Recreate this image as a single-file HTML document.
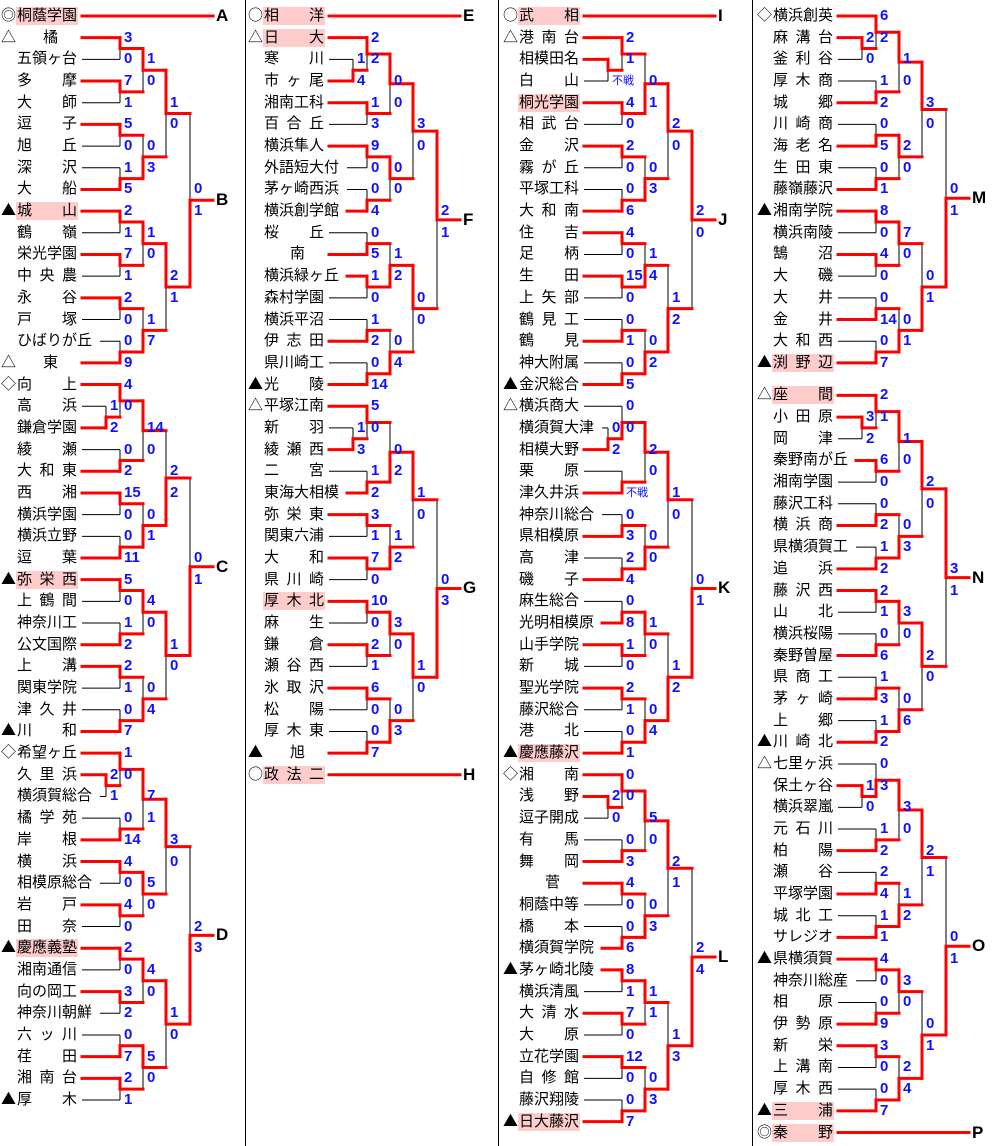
<!DOCTYPE html>
<html><head><meta charset="utf-8">
<style>
html,body{margin:0;padding:0;background:#fff;}
#root{position:relative;width:993px;height:1146px;overflow:hidden;background:#fff;font-family:"Liberation Sans","Noto Sans CJK JP",sans-serif;}
.nm{position:absolute;height:18px;line-height:18px;font-size:15px;color:#000;display:flex;justify-content:space-between;white-space:nowrap;}
.hl{position:absolute;height:18px;background:#ffcccc;}
.mk{position:absolute;font-size:15px;line-height:18px;height:18px;color:#000;font-family:"Noto Sans CJK JP",sans-serif;}
.sc{position:absolute;font-weight:bold;font-size:15px;line-height:16px;height:16px;color:#1010ff;font-family:"Liberation Sans",sans-serif;}
.fs{position:absolute;font-size:11px;line-height:14px;color:#1010ff;}
.lt{position:absolute;font-weight:bold;font-size:17px;line-height:20px;color:#000;font-family:"Liberation Sans",sans-serif;}
.dv{position:absolute;top:0;width:1px;height:1146px;background:#000;}
svg{position:absolute;left:0;top:0;}
</style></head><body>
<div id="root">
<div class="dv" style="left:245px"></div>
<div class="dv" style="left:498px"></div>
<div class="dv" style="left:752px"></div>
<svg id="sv" width="993" height="1146"></svg>
</div>
<script>
var P=21.68;
var BASE=[0,247,502,756];
var LV=[106,120,143,166,190];
function Y(c,r){return 16+(r+(c==3&&r>=17?0.5:0))*P;}
var root=document.getElementById('root');
var black=[],red=[];
function div(cls,x,y,txt,extra){var d=document.createElement('div');d.className=cls;d.style.left=x+'px';d.style.top=y+'px';if(extra)d.style.cssText+=extra;if(txt!=null)d.textContent=txt;root.appendChild(d);return d;}
var NAMES=[
["◎桐蔭学園*","△橘","五領ヶ台","多摩","大師","逗子","旭丘","深沢","大船","▲城山*","鶴嶺","栄光学園","中央農","永谷","戸塚","ひばりが丘","△東","◇向上","高浜","鎌倉学園","綾瀬","大和東","西湘","横浜学園","横浜立野","逗葉","▲弥栄西*","上鶴間","神奈川工","公文国際","上溝","関東学院","津久井","▲川和","◇希望ヶ丘","久里浜","横須賀総合","橘学苑","岸根","横浜","相模原総合","岩戸","田奈","▲慶應義塾*","湘南通信","向の岡工","神奈川朝鮮","六ッ川","荏田","湘南台","▲厚木"],
["○相洋*","△日大*","寒川","市ヶ尾","湘南工科","百合丘","横浜隼人","外語短大付","茅ヶ崎西浜","横浜創学館","桜丘","南","横浜緑ヶ丘","森村学園","横浜平沼","伊志田","県川崎工","▲光陵","△平塚江南","新羽","綾瀬西","二宮","東海大相模","弥栄東","関東六浦","大和","県川崎","厚木北*","麻生","鎌倉","瀬谷西","氷取沢","松陽","厚木東","▲旭","○政法二*"],
["○武相*","△港南台","相模田名","白山","桐光学園*","相武台","金沢","霧が丘","平塚工科","大和南","住吉","足柄","生田","上矢部","鶴見工","鶴見","神大附属","▲金沢総合","△横浜商大","横須賀大津","相模大野","栗原","津久井浜","神奈川総合","県相模原","高津","磯子","麻生総合","光明相模原","山手学院","新城","聖光学院","藤沢総合","港北","▲慶應藤沢*","◇湘南","浅野","逗子開成","有馬","舞岡","菅","桐蔭中等","橋本","横須賀学院","▲茅ヶ崎北陵","横浜清風","大清水","大原","立花学園","自修館","藤沢翔陵","▲日大藤沢*"],
["◇横浜創英","麻溝台","釜利谷","厚木商","城郷","川崎商","海老名","生田東","藤嶺藤沢","▲湘南学院","横浜南陵","鵠沼","大磯","大井","金井","大和西","▲渕野辺*","△座間*","小田原","岡津","秦野南が丘","湘南学園","藤沢工科","横浜商","県横須賀工","追浜","藤沢西","山北","横浜桜陽","秦野曽屋","県商工","茅ヶ崎","上郷","▲川崎北","△七里ヶ浜","保土ヶ谷","横浜翠嵐","元石川","柏陽","瀬谷","平塚学園","城北工","サレジオ","▲県横須賀","神奈川総産","相原","伊勢原","新栄","上溝南","厚木西","▲三浦*","◎秦野*"]
];
var LONG=[];
NAMES.forEach(function(arr,c){
  LONG[c]={};
  var b=BASE[c];
  arr.forEach(function(s,r){
    var hl=false;
    if(s.charAt(s.length-1)=='*'){hl=true;s=s.slice(0,-1);}
    var mk='';
    if("◎○△▲◇".indexOf(s.charAt(0))>=0){mk=s.charAt(0);s=s.slice(1);}
    var y=Y(c,r);
    if(mk)div('mk',b+1,y-10,mk);
    if(hl)div('hl',b+16,y-9,null,'width:62px;');
    var x0=b+17;
    if(s.length>=5){LONG[c][r]=1;div('nm',x0,y-9,s,'display:block;letter-spacing:0px;');}
    else if(s.length==1){div('nm',x0+26,y-9,s,'display:block;');}
    else{
      var d=div('nm',x0,y-9,null,'width:60px;');
      for(var i=0;i<s.length;i++){var sp=document.createElement('span');sp.textContent=s.charAt(i);d.appendChild(sp);}
    }
  });
});
function L(arr,x1,y1,x2,y2){arr.push([x1,y1,x2,y2]);}
function m(l,a,b,sa,sb,w){return {l:l,a:a,b:b,sa:sa,sb:sb,w:w};}
function leafX(c,r){return BASE[c]+(LONG[c][r]?100:82);}
function draw(c,n){
  if(typeof n=='number')return {r:n,x:leafX(c,n),leaf:true};
  var A=draw(c,n.a),B=draw(c,n.b);
  var X=BASE[c]+LV[n.l];
  var mid=(A.r+B.r)/2;
  var ya=Y(c,A.r),yb=Y(c,B.r),ym=Y(c,mid);
  L((!A.leaf||n.w==0)?red:black,A.x,ya,X,ya);
  L((!B.leaf||n.w==1)?red:black,B.x,yb,X,yb);
  L(n.w==0?red:black,X,ya,X,ym);
  L(n.w==1?red:black,X,ym,X,yb);
  var tr=Math.ceil(mid)-1,br=Math.ceil(mid);
  if(Math.ceil(mid)==mid){tr=mid-1;br=mid;}
  [[n.sa,tr],[n.sb,br]].forEach(function(p){
    if(!p[0])return;
    if(p[0]=='不戦')div('fs',X+4,Y(c,p[1])-7,p[0]);
    else div('sc',X+4,Y(c,p[1])-8,p[0]);
  });
  return {r:mid,x:X,leaf:false};
}
function block(c,n,letter){
  var R=draw(c,n);var y=Y(c,R.r);
  L(red,R.x,y,BASE[c]+213,y);
  div('lt',BASE[c]+216,y-10,letter);
}
function seed(c,r,letter){var y=Y(c,r);L(red,BASE[c]+82,y,BASE[c]+213,y);div('lt',BASE[c]+216,y-10,letter);}

seed(0,0,'A');
block(0,m(4,
  m(3,m(2,m(1,1,2,'3','0',0),m(1,3,4,'7','1',0),'1','0',0),m(2,m(1,5,6,'5','0',0),m(1,7,8,'1','5',1),'0','3',1),'1','0',0),
  m(3,m(2,m(1,9,10,'2','1',0),m(1,11,12,'7','1',0),'1','0',0),m(2,m(1,13,14,'2','0',0),m(1,15,16,'0','9',1),'1','7',1),'2','1',0),
  '0','1',1),'B');
block(0,m(4,
  m(3,m(2,m(1,17,m(0,18,19,'1','2',1),'4','0',0),m(1,20,21,'0','2',1),'14','0',0),m(2,m(1,22,23,'15','0',0),m(1,24,25,'0','11',1),'0','1',1),'2','2',1),
  m(3,m(2,m(1,26,27,'5','0',0),m(1,28,29,'1','2',1),'4','0',0),m(2,m(1,30,31,'2','1',0),m(1,32,33,'0','7',1),'0','4',1),'1','0',0),
  '0','1',1),'C');
block(0,m(4,
  m(3,m(2,m(1,34,m(0,35,36,'2','1',0),'1','0',0),m(1,37,38,'0','14',1),'7','1',0),m(2,m(1,39,40,'4','0',0),m(1,41,42,'4','0',0),'5','0',0),'3','0',0),
  m(3,m(2,m(1,43,44,'2','0',0),m(1,45,46,'3','2',0),'4','0',0),m(2,m(1,47,48,'0','7',1),m(1,49,50,'2','1',0),'5','0',0),'1','0',0),
  '2','3',1),'D');
seed(1,0,'E');
block(1,m(4,
  m(3,m(2,m(1,1,m(0,2,3,'1','4',1),'2','2',0),m(1,4,5,'1','3',0),'0','0',0),m(2,m(1,6,7,'9','0',0),m(1,8,9,'0','4',1),'0','0',0),'3','0',0),
  m(3,m(2,m(1,10,11,'0','5',1),m(1,12,13,'1','0',0),'1','2',1),m(2,m(1,14,15,'1','2',1),m(1,16,17,'0','14',1),'0','4',1),'0','0',0),
  '2','1',0),'F');
block(1,m(4,
  m(3,m(2,m(1,18,m(0,19,20,'1','3',1),'5','0',0),m(1,21,22,'1','2',1),'0','2',1),m(2,m(1,23,24,'3','1',0),m(1,25,26,'7','0',0),'1','2',1),'1','0',0),
  m(3,m(2,m(1,27,28,'10','0',0),m(1,29,30,'2','1',0),'3','0',0),m(2,m(1,31,32,'6','0',0),m(1,33,34,'0','7',1),'0','3',1),'1','0',0),
  '0','3',1),'G');
seed(1,35,'H');
seed(2,0,'I');
block(2,m(4,
  m(3,m(2,m(1,1,m(0,2,3,'','不戦',0),'2','1',0),m(1,4,5,'4','0',0),'0','1',1),m(2,m(1,6,7,'2','0',0),m(1,8,9,'0','6',1),'0','3',1),'2','0',0),
  m(3,m(2,m(1,10,11,'4','0',0),m(1,12,13,'15','0',0),'1','4',1),m(2,m(1,14,15,'0','1',1),m(1,16,17,'0','5',1),'0','2',1),'1','2',1),
  '2','0',0),'J');
block(2,m(4,
  m(3,m(2,m(1,18,m(0,19,20,'0','2',1),'0','0',1),m(1,21,22,'','不戦',1),'2','0',0),m(2,m(1,23,24,'0','3',1),m(1,25,26,'2','4',1),'0','0',1),'1','0',0),
  m(3,m(2,m(1,27,28,'0','8',1),m(1,29,30,'1','0',0),'1','0',0),m(2,m(1,31,32,'2','1',0),m(1,33,34,'0','1',1),'0','4',1),'1','2',1),
  '0','1',1),'K');
block(2,m(4,
  m(3,m(2,m(1,35,m(0,36,37,'2','0',0),'0','0',0),m(1,38,39,'0','3',1),'5','0',0),m(2,m(1,40,41,'4','0',0),m(1,42,43,'0','6',1),'0','3',1),'2','1',0),
  m(3,m(2,m(1,44,45,'8','1',0),m(1,46,47,'7','0',0),'1','1',0),m(2,m(1,48,49,'12','0',0),m(1,50,51,'0','7',1),'0','3',1),'1','3',1),
  '2','4',1),'L');
block(3,m(4,
  m(3,m(2,m(1,0,m(0,1,2,'2','0',0),'6','2',0),m(1,3,4,'1','2',1),'1','0',0),m(2,m(1,5,6,'0','5',1),m(1,7,8,'0','1',1),'2','0',0),'3','0',0),
  m(3,m(2,m(1,9,10,'8','0',0),m(1,11,12,'4','0',0),'7','0',0),m(2,m(1,13,14,'0','14',1),m(1,15,16,'0','7',1),'0','1',1),'0','1',1),
  '0','1',1),'M');
block(3,m(4,
  m(3,m(2,m(1,17,m(0,18,19,'3','2',0),'2','1',0),m(1,20,21,'6','0',0),'1','0',0),m(2,m(1,22,23,'0','2',1),m(1,24,25,'1','2',1),'0','3',1),'2','0',0),
  m(3,m(2,m(1,26,27,'2','1',0),m(1,28,29,'0','6',1),'3','0',0),m(2,m(1,30,31,'1','3',1),m(1,32,33,'1','2',1),'0','6',1),'2','0',0),
  '3','1',0),'N');
block(3,m(4,
  m(3,m(2,m(1,34,m(0,35,36,'1','0',0),'0','3',1),m(1,37,38,'1','2',1),'3','0',0),m(2,m(1,39,40,'2','4',1),m(1,41,42,'1','1',1),'1','2',1),'2','1',0),
  m(3,m(2,m(1,43,44,'4','0',0),m(1,45,46,'0','9',1),'3','0',0),m(2,m(1,47,48,'3','0',0),m(1,49,50,'0','7',1),'2','4',1),'0','1',1),
  '0','1',1),'O');
seed(3,51,'P');

var svg='';
black.forEach(function(l){svg+='<line x1="'+l[0]+'" y1="'+l[1]+'" x2="'+l[2]+'" y2="'+l[3]+'" stroke="#000" stroke-width="1"/>';});
red.forEach(function(l){svg+='<line x1="'+l[0]+'" y1="'+l[1]+'" x2="'+l[2]+'" y2="'+l[3]+'" stroke="#f00" stroke-width="3" stroke-linecap="square"/>';});
document.getElementById('sv').innerHTML=svg;
</script>
</body></html>
